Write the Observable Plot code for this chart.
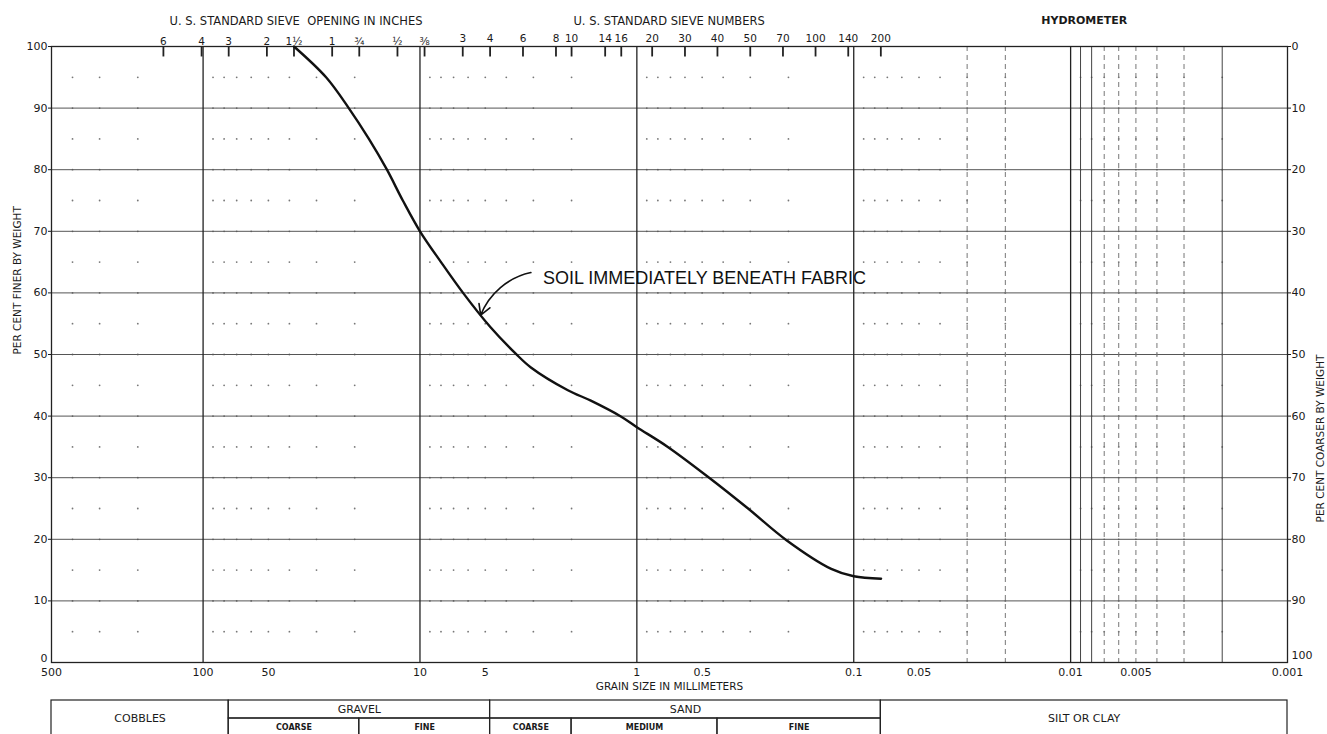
<!DOCTYPE html>
<html><head><meta charset="utf-8">
<script src="https://cdn.jsdelivr.net/npm/d3@7"></script>
<script src="https://cdn.jsdelivr.net/npm/@observablehq/plot@0.6"></script>
<style>
html,body{margin:0;padding:0;background:#fff;overflow:hidden;}
svg{display:block;}
</style></head><body><div id="chart"></div>
<script>
// ---- data: grain-size curve (mm, % finer) ----
const curveSize  = [38.1, 27.1, 21.3, 17.2, 14.2, 12.0, 10, 8.0, 6.33, 4.75, 3.61, 3.08, 2.08, 1.63, 1.18, 1.0, 0.72, 0.464, 0.307, 0.205, 0.127, 0.1, 0.0748];
const curveFiner = [100, 95, 90, 85, 80, 75, 70, 65, 60, 54.5, 50.1, 47.9, 44.2, 42.5, 39.9, 38.2, 35, 30, 25, 19.9, 15.2, 14.0, 13.6];

// ---- top axis: sieve openings (inches) and sieve numbers ----
const inchLabels = ["6", "4", "3", "2", "1½", "1", "¾", "½", "⅜"];
const inchSizes  = [152.4, 101.6, 76.2, 50.8, 38.1, 25.4, 19.05, 12.7, 9.525];
const sieveLabels = ["3", "4", "6", "8", "10", "14", "16", "20", "30", "40", "50", "70", "100", "140", "200"];
const sieveSizes  = [6.35, 4.75, 3.35, 2.36, 2.0, 1.4, 1.18, 0.85, 0.6, 0.425, 0.3, 0.212, 0.15, 0.106, 0.075];
const headerLabels = ["U. S. STANDARD SIEVE  OPENING IN INCHES", "U. S. STANDARD SIEVE NUMBERS"];
const headerAt     = [37.3, 0.71];
const hydroLabel = ["HYDROMETER"];
const hydroAt    = [0.00865];

// ---- bottom axis ----
const bottomTicks  = [500, 100, 50, 10, 5, 1, 0.5, 0.1, 0.05, 0.01, 0.005, 0.001];
const bottomLabels = ["500", "100", "50", "10", "5", "1", "0.5", "0.1", "0.05", "0.01", "0.005", "0.001"];
const xTitle = ["GRAIN SIZE IN MILLIMETERS"];
const percentTicks = [0, 10, 20, 30, 40, 50, 60, 70, 80, 90, 100];

// ---- grid structure ----
const majorLines  = [100, 10, 1, 0.1, 0.01];
const hydroSolid  = [0.009, 0.008, 0.002];
const hydroDashed = [0.007, 0.006, 0.005, 0.004, 0.003, 0.02, 0.03];
const dotRows = [5, 10, 15, 20, 25, 30, 35, 40, 45, 50, 55, 60, 65, 70, 75, 80, 85, 90, 95];
const minorMultipliers = [2, 3, 4, 5, 6, 7, 8, 9];
const decades = [0.001, 0.01, 0.1, 1, 10, 100];

// ---- annotation ----
const annotText = ["SOIL IMMEDIATELY BENEATH FABRIC"];
const annotSize = [2.71];
const annotFiner = [62.3];
const arrowFrom = [3.08, 63.3];
const arrowTo   = [5.25, 56.4];

// ---- classification table ----
const classNames = ["COBBLES", "GRAVEL", "SAND", "SILT OR CLAY"];
const classFrom  = [500, 76.2, 4.75, 0.075];
const classTo    = [76.2, 4.75, 0.075, 0.001];
const classRows  = [2, 1, 1, 2];
const subNames = ["COARSE", "FINE", "COARSE", "MEDIUM", "FINE"];
const subFrom  = [76.2, 19.05, 4.75, 2.0, 0.425];
const subTo    = [19.05, 4.75, 2.0, 0.425, 0.075];

// build tables
const curve = curveSize.map((s, i) => ({size: s, finer: curveFiner[i]}));
const dotGrid = [];
for (const d of decades) for (const m of minorMultipliers) {
  const v = d * m;
  if (v < 500) for (const r of dotRows) dotGrid.push({x: v, y: r});
}
const inchTicks = inchSizes.map((s, i) => ({size: s, label: inchLabels[i]}));
const sieveTicks = sieveSizes.map((s, i) => ({size: s, label: sieveLabels[i]}));
const headers = headerLabels.map((l, i) => ({x: headerAt[i], label: l}));
const bottom = bottomTicks.map((t, i) => ({x: t, label: bottomLabels[i]}));

const FONT = "'DejaVu Sans', sans-serif";
const INK = "#1a1a1a";

const main = Plot.plot({
  width: 1327, height: 696,
  marginTop: 46, marginBottom: 34, marginLeft: 51, marginRight: 40,
  style: {fontFamily: FONT, fontSize: "11px", color: INK, background: "#fff"},
  x: {type: "log", domain: [500, 0.001], axis: null},
  y: {domain: [0, 100], axis: null},
  marks: [
    Plot.dot(dotGrid, {x: "x", y: "y", r: 0.9, fill: "#777", stroke: null}),
    Plot.ruleY(percentTicks.slice(1, -1), {stroke: "#555", strokeWidth: 1}),
    Plot.ruleX(hydroDashed, {stroke: "#777", strokeWidth: 1, strokeDasharray: "5,4"}),
    Plot.ruleX(hydroSolid, {stroke: "#444", strokeWidth: 1}),
    Plot.ruleX(majorLines, {stroke: "#222", strokeWidth: 1.3}),
    Plot.frame({stroke: "#222", strokeWidth: 1.3}),
    // sieve ticks hanging from the top line
    Plot.ruleX(inchTicks, {x: "size", y1: 100, y2: 98.3, stroke: "#222", strokeWidth: 1.8}),
    Plot.ruleX(sieveTicks, {x: "size", y1: 100, y2: 98.3, stroke: "#222", strokeWidth: 1.8}),
    Plot.text(inchTicks, {x: "size", text: "label", frameAnchor: "top", dy: -9, fontSize: 10.5, fill: INK}),
    Plot.text(sieveTicks, {x: "size", text: "label", frameAnchor: "top", dy: -12, fontSize: 10.5, fill: INK}),
    Plot.text(headers, {x: "x", text: "label", frameAnchor: "top", dy: -30, fontSize: 11.5, fill: INK}),
    Plot.text(hydroLabel, {x: () => hydroAt[0], text: d => d, frameAnchor: "top", dy: -30, fontSize: 11, fontWeight: "bold", fill: INK}),
    // left axis (0 raised slightly, as on the form)
    Plot.axisY({anchor: "left", ticks: percentTicks.slice(1), tickSize: 3, tickPadding: 1, label: null, fontSize: 11}),
    Plot.text([0], {y: d => d, frameAnchor: "left", text: d => String(d), dx: -4, dy: -4, textAnchor: "end", fontSize: 11, fill: INK}),
    // right axis: per cent coarser (0 at top, 100 at bottom)
    Plot.axisY({anchor: "right", ticks: percentTicks.slice(1), tickFormat: d => String(100 - d), tickSize: 3, tickPadding: 1, label: null, fontSize: 11}),
    Plot.text([0], {y: d => d, frameAnchor: "right", text: d => String(100 - d), dx: 4, dy: -7, textAnchor: "start", fontSize: 11, fill: INK}),
    // bottom axis
    Plot.text(bottom, {x: "x", text: "label", frameAnchor: "bottom", dy: 13, fontSize: 11, fill: INK}),
    Plot.text(xTitle, {frameAnchor: "bottom", dy: 27, fontSize: 10.5, fill: INK}),
    Plot.text(["PER CENT FINER BY WEIGHT"], {frameAnchor: "left", dx: -34, rotate: -90, fontSize: 10.5, fill: INK}),
    Plot.text(["PER CENT COARSER BY WEIGHT"], {frameAnchor: "right", dx: 33, rotate: -90, fontSize: 10.5, fill: INK}),
    // curve
    Plot.line(curve, {x: "size", y: "finer", curve: "catmull-rom", stroke: "#111", strokeWidth: 2.4}),
    // annotation
    Plot.arrow([0], {x1: () => arrowFrom[0], y1: () => arrowFrom[1], x2: () => arrowTo[0], y2: () => arrowTo[1],
      bend: -28, stroke: "#111", strokeWidth: 1.6, headLength: 11}),
    Plot.text(annotText, {x: () => annotSize[0], y: () => annotFiner[0], text: d => d, textAnchor: "start",
      fontSize: 18, fontFamily: "'Liberation Sans', Arial, sans-serif", fill: "#111"})
  ]
});

const classCells = classNames.map((n, i) => ({x1: classFrom[i], x2: classTo[i], y1: 0, y2: classRows[i], label: n}));
const subCells = subNames.map((n, i) => ({x1: subFrom[i], x2: subTo[i], y1: 1, y2: 2, label: n}));

const table = Plot.plot({
  width: 1327, height: 40,
  marginTop: 4, marginBottom: 0, marginLeft: 51, marginRight: 40,
  style: {fontFamily: FONT, fontSize: "11px", color: INK, background: "#fff"},
  x: {type: "log", domain: [500, 0.001], axis: null},
  y: {domain: [2, 0], axis: null},
  marks: [
    Plot.rect(classCells.concat(subCells), {x1: "x1", x2: "x2", y1: "y1", y2: "y2", fill: "none", stroke: "#222", strokeWidth: 1.2}),
    Plot.text(classCells, {x: d => Math.sqrt(d.x1 * d.x2), y: d => (d.y1 + d.y2) / 2, text: "label", fontSize: 11, fill: INK}),
    Plot.text(subCells, {x: d => Math.sqrt(d.x1 * d.x2), y: d => (d.y1 + d.y2) / 2, text: "label", fontSize: 8, fontWeight: "bold", fill: INK})
  ]
});

const root = document.getElementById("chart");
root.appendChild(main);
root.appendChild(table);
</script>
</body></html>
